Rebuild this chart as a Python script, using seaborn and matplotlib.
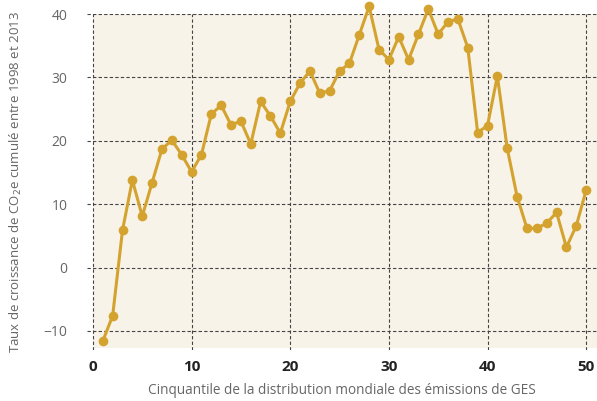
import numpy as np
import pandas as pd
import matplotlib
matplotlib.use('Agg')
import matplotlib.pyplot as plt
from matplotlib.patches import Rectangle
import seaborn as sns

# cinquantiles 1..50
cinquantile = list(range(1, 51))
taux = [-11.6, -7.6, 5.9, 13.8, 8.1, 13.4, 18.7, 20.1, 17.8, 15.1,
        17.8, 24.2, 25.6, 22.5, 23.1, 19.5, 26.2, 23.9, 21.2, 26.2,
        29.1, 31.0, 27.5, 27.9, 31.0, 32.2, 36.7, 41.2, 34.4, 32.8,
        36.4, 32.8, 36.8, 40.8, 36.8, 38.8, 39.2, 34.7, 21.3, 22.4,
        30.2, 18.8, 11.2, 6.2, 6.2, 7.0, 8.7, 3.2, 6.6, 12.2]
x_ticks = [0, 10, 20, 30, 40, 50]
y_ticks = [-10, 0, 10, 20, 30, 40]

df = pd.DataFrame({'cinquantile': cinquantile, 'taux': taux})

sns.set_style('white')
plt.rcParams['font.family'] = ['Open Sans', 'DejaVu Sans']

gold = '#D4A32F'
fig = plt.figure(figsize=(5.97, 4.01), dpi=100)
ax = fig.add_axes([87/597, (401-350)/401, (597-87)/597, (350-14)/401])

# fond beige de la zone de données
ax.add_patch(Rectangle((0, -12.7), 60, 52.7, facecolor='#F8F3E9',
                       edgecolor='none', zorder=0))

sns.lineplot(data=df, x='cinquantile', y='taux', ax=ax, color=gold,
             linewidth=2.2, marker='o', markersize=7, markeredgewidth=0,
             clip_on=False, zorder=3)

ax.set_xlim(-0.6, 51.1)
ax.set_ylim(-13.0, 40)
ax.set_xticks(x_ticks)
ax.set_yticks(y_ticks)
ax.grid(True, linestyle=(0, (3, 2)), color='#444444', linewidth=0.8, zorder=1)
ax.set_axisbelow(True)
for s in ax.spines.values():
    s.set_visible(False)

ax.tick_params(axis='x', direction='out', length=7, width=2.2, color='#222222',
               pad=0, labelsize=11)
ax.tick_params(axis='y', direction='out', length=8, width=2.2, color='#222222',
               pad=6, labelsize=10, labelcolor='#666666')
for lab in ax.get_xticklabels():
    lab.set_fontweight('bold')
    lab.set_color('#222222')

ax.set_xlabel('Cinquantile de la distribution mondiale des émissions de GES',
              fontsize=9.8, color='#666666', labelpad=7)
ax.set_ylabel('Taux de croissance de CO$_2$e cumulé entre 1998 et 2013',
              fontsize=9.5, color='#666666', labelpad=14)

fig.savefig('out.png', dpi=100)
